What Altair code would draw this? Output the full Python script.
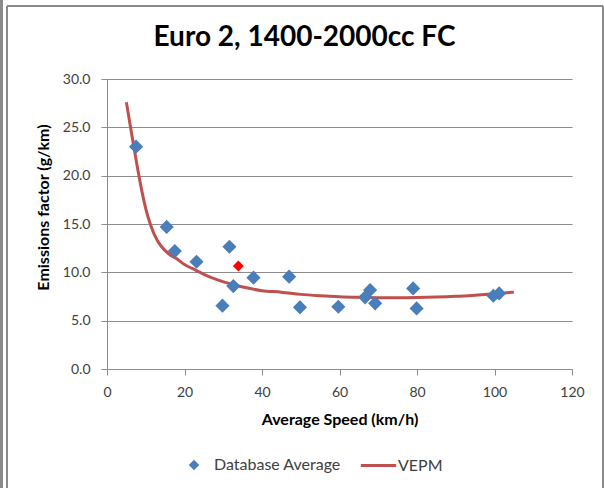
import altair as alt
import pandas as pd

# Database average points (blue diamonds)
db_speed = [7.5, 15.4, 17.5, 23.1, 29.8, 31.6, 32.6, 37.8, 47.0, 49.8, 59.7, 66.6, 67.9, 69.2, 79.0, 79.9, 99.7, 101.2]
db_ef = [23.0, 14.7, 12.2, 11.1, 6.55, 12.65, 8.58, 9.45, 9.55, 6.38, 6.44, 7.41, 8.17, 6.79, 8.34, 6.27, 7.58, 7.82]

# highlighted point (red diamond)
hl_speed = [33.9]
hl_ef = [10.65]

# VEPM curve
vepm_speed = [5, 6, 7, 8, 9, 10, 11, 12, 13, 14, 16, 18, 20, 22, 25, 28, 32, 36, 40, 45, 50, 55, 60, 65, 70, 75, 80, 85, 90, 95, 100, 105]
vepm_ef = [27.6, 25.2, 22.8, 20.5, 18.4, 16.6, 15.2, 14.1, 13.3, 12.7, 11.9, 11.4, 10.8, 10.4, 9.8, 9.3, 8.8, 8.4, 8.1, 7.95, 7.72, 7.58, 7.48, 7.42, 7.38, 7.37, 7.39, 7.44, 7.52, 7.64, 7.78, 7.95]

series = ["Database Average", "VEPM"]
BLUE = "#4A7EBB"
RED_LINE = "#C0504D"
GRID = "#8C8C8C"
FONT = "Lato"

db = pd.DataFrame({"speed": db_speed, "ef": db_ef, "series": series[0]})
hl = pd.DataFrame({"speed": hl_speed, "ef": hl_ef})
vepm = pd.DataFrame({"speed": vepm_speed, "ef": vepm_ef, "series": series[1]})

W, H = 465, 290
PL, PT = 107, 79

xs = alt.X("speed:Q", scale=alt.Scale(domain=[0, 120], nice=False),
           axis=alt.Axis(values=[0, 20, 40, 60, 80, 100, 120], title="Average Speed (km/h)",
                         grid=False, tickSize=6, labelPadding=10, titlePadding=12,
                         labelFlush=False, format="d"))
ys = alt.Y("ef:Q", scale=alt.Scale(domain=[0, 30], nice=False),
           axis=alt.Axis(values=[0, 5, 10, 15, 20, 25, 30], format=".1f",
                         title="Emissions factor (g/km)", tickSize=6, labelPadding=11,
                         labelFlush=False,
                         titleX=43 - PL, titleY=207 - PT, titleAngle=-90,
                         titleAlign="center", titleBaseline="middle"))

leg_common = dict(title=None, orient="none", direction="horizontal",
                  labelFont=FONT, labelFontSize=16, labelColor="#404040")

points = alt.Chart(db).mark_point(filled=True, size=200, opacity=1, shape="diamond").encode(
    x=xs, y=ys,
    color=alt.Color("series:N", scale=alt.Scale(domain=[series[0]], range=[BLUE]),
                    legend=alt.Legend(legendX=186 - PL, legendY=457 - PT, symbolType="diamond",
                                      symbolSize=110, labelOffset=12, **leg_common)),
)

hl_layer = alt.Chart(hl).mark_point(filled=True, size=120, opacity=1, shape="diamond", color="#FF0000").encode(
    x="speed:Q", y="ef:Q")

line = alt.Chart(vepm).mark_line(strokeWidth=3, interpolate="monotone").encode(
    x="speed:Q", y="ef:Q",
    stroke=alt.Stroke("series:N", scale=alt.Scale(domain=[series[1]], range=[RED_LINE]),
                      legend=alt.Legend(legendX=359 - PL, legendY=446 - PT, symbolType="stroke",
                                        symbolSize=1250, symbolStrokeWidth=3, labelOffset=0,
                                        **leg_common)),
)

frame_color = "#8A8A8A"
frame = [
    alt.Chart(db).mark_rule(color=frame_color, strokeWidth=1.5).encode(
        x=alt.value(1.5 - PL), y=alt.value(-PT), y2=alt.value(488 - PT)),
    alt.Chart(db).mark_rule(color=frame_color, strokeWidth=1.5).encode(
        x=alt.value(7 - PL), y=alt.value(6 - PT), y2=alt.value(488 - PT)),
    alt.Chart(db).mark_rule(color=frame_color, strokeWidth=1.5).encode(
        x=alt.value(7 - PL), x2=alt.value(603 - PL), y=alt.value(6 - PT)),
    alt.Chart(db).mark_rule(color=frame_color, strokeWidth=1.5).encode(
        x=alt.value(603 - PL), y=alt.value(6 - PT), y2=alt.value(488 - PT)),
]

chart = alt.layer(line, points, hl_layer, *frame).properties(
    width=W, height=H,
    autosize=alt.AutoSizeParams(type="none"),
    padding={"left": PL, "top": PT, "right": 604 - PL - W, "bottom": 488 - PT - H},
    title=alt.TitleParams("Euro 2, 1400-2000cc FC", font=FONT, fontSize=28, fontWeight="bold",
                          color="#000000", anchor="middle", frame="group", dx=-35,
                          baseline="alphabetic", offset=0, dy=75),
    background="white",
).configure_view(stroke=None).configure_axis(
    labelFont=FONT, labelFontSize=14, labelColor="#404040",
    titleFont=FONT, titleFontSize=16, titleFontWeight="bold", titleColor="#000000",
    domainColor=GRID, tickColor=GRID, gridColor=GRID, domainWidth=1, gridWidth=1,
)

chart.save("out.html", embed_options={"renderer": "svg", "actions": False})
